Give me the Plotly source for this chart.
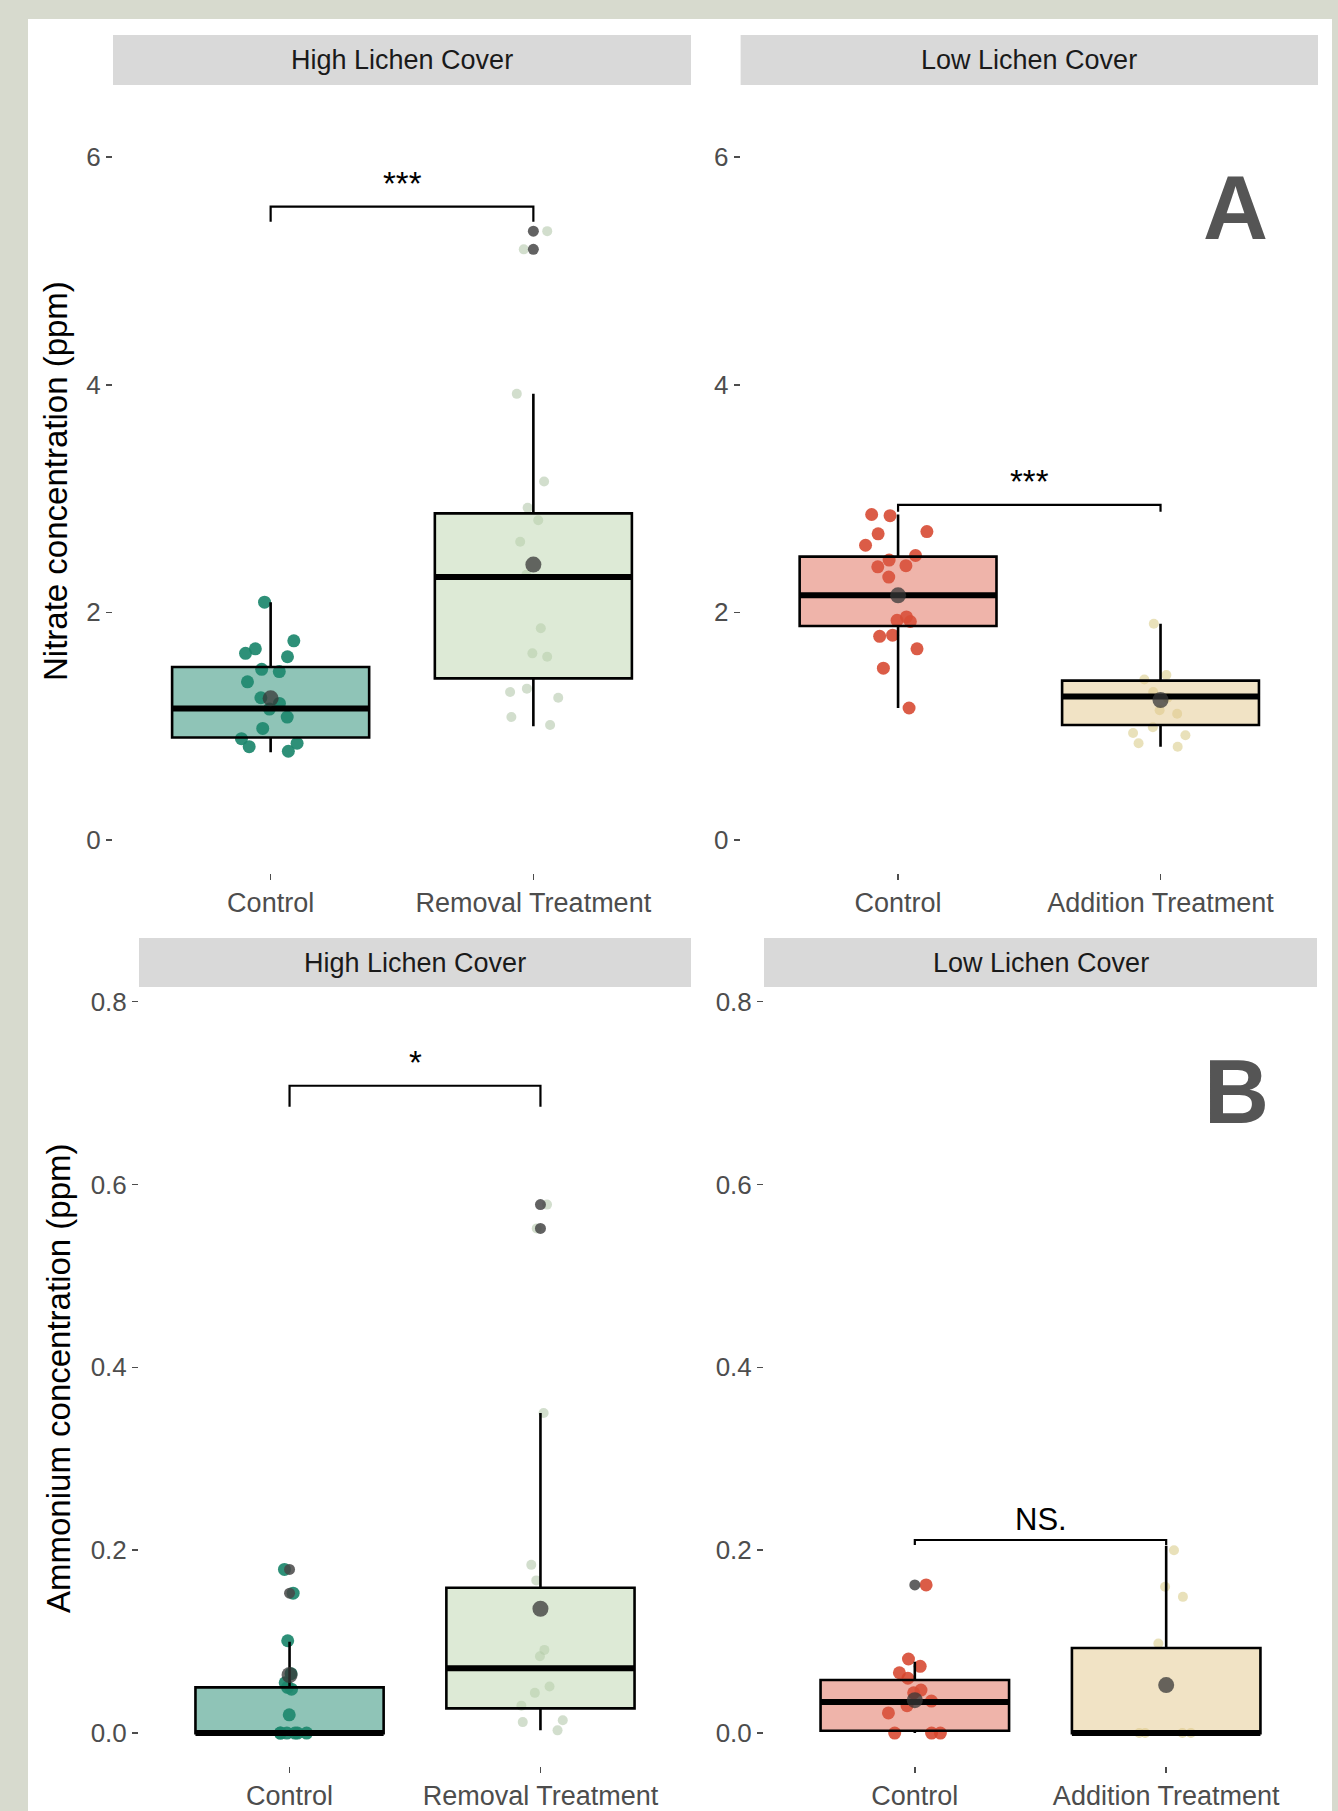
import plotly.graph_objects as go

# ---------------------------------------------------------------- data
facet_titles = ["High Lichen Cover", "Low Lichen Cover"]
cats_high = ["Control", "Removal Treatment"]
cats_low = ["Control", "Addition Treatment"]
panel_letters = ["A", "B"]
y_titles = ["Nitrate concentration (ppm)", "Ammonium concentration (ppm)"]

# Panel A : nitrate (ppm) - individual samples
no3_high_control = [2.09, 1.75, 1.68, 1.64, 1.61, 1.50, 1.48, 1.39, 1.25, 1.20,
                    1.15, 1.08, 0.98, 0.89, 0.85, 0.82, 0.78]
no3_high_removal = [5.35, 5.19, 3.92, 3.15, 2.92, 2.81, 2.62, 2.33, 1.86, 1.64,
                    1.61, 1.33, 1.30, 1.25, 1.08, 1.01]
no3_low_control = [2.86, 2.85, 2.71, 2.69, 2.59, 2.50, 2.46, 2.41, 2.40, 2.31,
                   1.96, 1.93, 1.92, 1.80, 1.79, 1.68, 1.51, 1.16]
no3_low_addition = [1.90, 1.45, 1.41, 1.30, 1.25, 1.14, 1.11, 0.99, 0.94, 0.92,
                    0.85, 0.82]

# box statistics: q1, median, q3, lower whisker, upper whisker
no3_high_control_box = [0.90, 1.155, 1.52, 0.77, 2.09]
no3_high_removal_box = [1.42, 2.31, 2.87, 1.00, 3.92]
no3_low_control_box = [1.88, 2.15, 2.49, 1.16, 2.86]
no3_low_addition_box = [1.01, 1.26, 1.40, 0.82, 1.90]
no3_means = [[1.245, 2.42], [2.15, 1.23]]
no3_outliers = [[[], [5.35, 5.19]], [[], []]]

# Panel B : ammonium (ppm) - individual samples
nh4_high_control = [0.179, 0.153, 0.101, 0.065, 0.055, 0.050, 0.048, 0.020,
                    0.0, 0.0, 0.0, 0.0, 0.0, 0.0]
nh4_high_removal = [0.578, 0.552, 0.350, 0.184, 0.167, 0.091, 0.084, 0.051,
                    0.044, 0.030, 0.014, 0.012, 0.003]
nh4_low_control = [0.162, 0.081, 0.073, 0.066, 0.060, 0.047, 0.044, 0.035,
                   0.030, 0.022, 0.0, 0.0, 0.0]
nh4_low_addition = [0.200, 0.160, 0.149, 0.098, 0.0, 0.0, 0.0, 0.0]

nh4_high_control_box = [0.0, 0.0, 0.050, 0.0, 0.100]
nh4_high_removal_box = [0.027, 0.071, 0.159, 0.003, 0.350]
nh4_low_control_box = [0.0025, 0.034, 0.058, 0.0, 0.078]
nh4_low_addition_box = [0.0, 0.0, 0.093, 0.0, 0.205]
nh4_means = [[0.0635, 0.136], [0.036, 0.0525]]
nh4_outliers = [[[0.179, 0.153], [0.578, 0.552]], [[0.162], []]]

# significance brackets: label, bar level, tip level
sig_labels = [["***", "***"], ["*", "NS."]]
sig_bar = [[5.565, 2.944], [0.708, 0.2112]]
sig_tip = [[5.433, 2.885], [0.685, 0.2057]]

y_ranges = [[-0.29, 6.634], [-0.036, 0.816]]
y_ticks = [[0, 2, 4, 6], [0.0, 0.2, 0.4, 0.6, 0.8]]
y_fmt = ["d", ".1f"]

# ---------------------------------------------------------------- styles
W, H = 1338, 1811
FONT = "Liberation Sans"
BOX_W = 0.75

teal = dict(pt="rgba(28,135,108,0.92)", fill="rgba(31,138,112,0.50)", size=13)
green = dict(pt="rgba(165,190,155,0.50)", fill="rgba(188,214,173,0.50)", size=10)
red = dict(pt="rgba(214,70,45,0.88)", fill="rgba(219,88,66,0.45)", size=13)
beige = dict(pt="rgba(212,196,118,0.50)", fill="rgba(228,200,140,0.50)", size=10)


def px(x):
    return x / W


def py(y):
    return 1 - y / H


# panel geometry (pixels)
rows_y = [(85, 873), (987, 1766)]
cols_x = [[(113, 691), (740.6, 1318)], [(139, 691), (764, 1317)]]
strip_y = [(35, 85), (938, 987)]

panels = [
    dict(row=0, col=0, cats=cats_high, pts=[no3_high_control, no3_high_removal],
         box=[no3_high_control_box, no3_high_removal_box], sty=[teal, green]),
    dict(row=0, col=1, cats=cats_low, pts=[no3_low_control, no3_low_addition],
         box=[no3_low_control_box, no3_low_addition_box], sty=[red, beige]),
    dict(row=1, col=0, cats=cats_high, pts=[nh4_high_control, nh4_high_removal],
         box=[nh4_high_control_box, nh4_high_removal_box], sty=[teal, green]),
    dict(row=1, col=1, cats=cats_low, pts=[nh4_low_control, nh4_low_addition],
         box=[nh4_low_control_box, nh4_low_addition_box], sty=[red, beige]),
]
means_all = [no3_means, nh4_means]
outl_all = [no3_outliers, nh4_outliers]

fig = go.Figure()
layout_axes = {}
shapes = []
annotations = []

for k, p in enumerate(panels):
    n = k + 1
    xs = "" if n == 1 else str(n)
    xref, yref = "x" + xs, "y" + xs
    r, c = p["row"], p["col"]
    (x0, x1) = cols_x[r][c]
    (ytop, ybot) = rows_y[r]
    positions = [1, 2]

    # jittered samples (drawn by the box trace point machinery)
    for g in range(2):
        vals = p["pts"][g]
        sty = p["sty"][g]
        fig.add_trace(go.Box(
            x=[positions[g]] * len(vals), y=vals, boxpoints="all", jitter=0.35,
            pointpos=0, width=BOX_W, whiskerwidth=0,
            fillcolor="rgba(0,0,0,0)", line=dict(color="rgba(0,0,0,0)", width=0),
            marker=dict(color=sty["pt"], size=sty["size"], line=dict(width=0)),
            xaxis=xref, yaxis=yref, showlegend=False, hoverinfo="y"))
    # boxes
    for g in range(2):
        q1, med, q3, lo, hi = p["box"][g]
        fig.add_trace(go.Box(
            x=[positions[g]], q1=[q1], median=[med], q3=[q3],
            lowerfence=[lo], upperfence=[hi], width=BOX_W, whiskerwidth=0,
            boxpoints=False, fillcolor=p["sty"][g]["fill"],
            line=dict(color="black", width=2.6),
            xaxis=xref, yaxis=yref, showlegend=False))
    # thick median lines
    for g in range(2):
        med = p["box"][g][1]
        fig.add_trace(go.Scatter(
            x=[positions[g] - BOX_W / 2, positions[g] + BOX_W / 2], y=[med, med],
            mode="lines", line=dict(color="black", width=6),
            xaxis=xref, yaxis=yref, showlegend=False, hoverinfo="skip"))
    # outliers
    for g in range(2):
        ov = outl_all[r][c][g]
        if ov:
            fig.add_trace(go.Scatter(
                x=[positions[g]] * len(ov), y=ov, mode="markers",
                marker=dict(color="rgba(70,70,70,0.85)", size=11),
                xaxis=xref, yaxis=yref, showlegend=False))
    # means
    fig.add_trace(go.Scatter(
        x=positions, y=means_all[r][c], mode="markers",
        marker=dict(color="rgba(55,55,55,0.75)", size=16),
        xaxis=xref, yaxis=yref, showlegend=False))
    # significance bracket
    bar, tip = sig_bar[r][c], sig_tip[r][c]
    fig.add_trace(go.Scatter(
        x=[positions[0], positions[0], positions[1], positions[1]],
        y=[tip, bar, bar, tip], mode="lines",
        line=dict(color="black", width=2.2),
        xaxis=xref, yaxis=yref, showlegend=False, hoverinfo="skip"))
    lab = sig_labels[r][c]
    annotations.append(dict(
        x=1.5, y=bar, xref=xref, yref=yref, text=lab, showarrow=False,
        yanchor="bottom", yshift=1 if lab == "NS." else 3,
        font=dict(family=FONT, size=31 if lab == "NS." else 33, color="black")))

    ax_common = dict(showgrid=False, zeroline=False, showline=False,
                     ticks="outside", ticklen=6, tickwidth=1.6,
                     tickcolor="#4d4d4d", fixedrange=True)
    layout_axes["xaxis" + xs] = dict(
        domain=[px(x0), px(x1)], anchor=yref, range=[0.4, 2.6],
        tickmode="array", tickvals=positions, ticktext=p["cats"],
        tickfont=dict(family=FONT, size=27, color="#4d4d4d"), **ax_common)
    layout_axes["yaxis" + xs] = dict(
        domain=[py(ybot), py(ytop)], anchor=xref, range=y_ranges[r],
        tickmode="array", tickvals=y_ticks[r], tickformat=y_fmt[r],
        tickfont=dict(family=FONT, size=26, color="#4d4d4d"), **ax_common)

    # facet strip
    sy0, sy1 = strip_y[r]
    shapes.append(dict(type="rect", xref="paper", yref="paper",
                       x0=px(x0), x1=px(x1), y0=py(sy1), y1=py(sy0),
                       fillcolor="#d9d9d9", line=dict(width=0), layer="below"))
    annotations.append(dict(
        x=px((x0 + x1) / 2), y=py((sy0 + sy1) / 2), xref="paper", yref="paper",
        text=facet_titles[c], showarrow=False, xanchor="center", yanchor="middle",
        font=dict(family=FONT, size=27, color="#1a1a1a")))

# white canvas behind the two figures
shapes.insert(0, dict(type="rect", xref="paper", yref="paper",
                      x0=px(28), x1=px(1332), y0=0, y1=py(19),
                      fillcolor="white", line=dict(width=0), layer="below"))

# y-axis titles
for r, (cx, cy) in enumerate([(55, 481), (58, 1378)]):
    annotations.append(dict(
        x=px(cx), y=py(cy), xref="paper", yref="paper", text=y_titles[r],
        showarrow=False, textangle=-90, xanchor="center", yanchor="middle",
        font=dict(family=FONT, size=33, color="black")))

# panel letters
for r, (cx, cy) in enumerate([(1235, 208), (1236, 1092)]):
    annotations.append(dict(
        x=px(cx), y=py(cy), xref="paper", yref="paper",
        text="<b>" + panel_letters[r] + "</b>", showarrow=False,
        xanchor="center", yanchor="middle",
        font=dict(family=FONT, size=90, color="#555555")))

fig.update_layout(
    width=W, height=H, margin=dict(l=0, r=0, t=0, b=0),
    paper_bgcolor="#d7dace", plot_bgcolor="rgba(0,0,0,0)",
    boxmode="overlay", showlegend=False,
    shapes=shapes, annotations=annotations, **layout_axes)

fig.write_html("out.html",
               config={"displayModeBar": False, "staticPlot": True},
               post_script="document.body.style.margin='0px';"
                           "document.body.style.overflow='hidden';")
